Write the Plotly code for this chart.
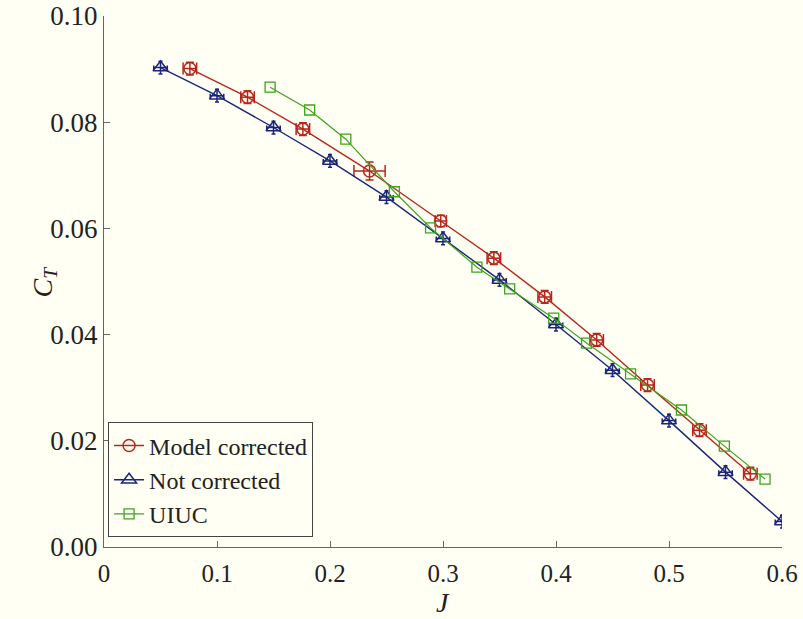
import plotly.graph_objects as go

# Thrust coefficient versus advance ratio
j_model = [0.076, 0.127, 0.176, 0.235, 0.298, 0.345, 0.390, 0.436, 0.481, 0.527, 0.572]
ct_model = [0.0901, 0.0847, 0.0787, 0.0708, 0.0614, 0.0544, 0.0471, 0.0390, 0.0305, 0.0220, 0.0138]
j_model_err = [0.006, 0.006, 0.006, 0.0138, 0.005, 0.006, 0.006, 0.006, 0.006, 0.006, 0.006]
ct_model_err = [0.0012, 0.0012, 0.0012, 0.0017, 0.0011, 0.0012, 0.0012, 0.0012, 0.0012, 0.0012, 0.0012]

j_raw = [0.05, 0.10, 0.15, 0.20, 0.25, 0.30, 0.35, 0.40, 0.45, 0.50, 0.55, 0.60]
ct_raw = [0.0903, 0.0850, 0.0790, 0.0727, 0.0659, 0.0581, 0.0503, 0.0419, 0.0333, 0.0238, 0.0141, 0.0048]
j_raw_err = [0.006] * 12
ct_raw_err = [0.0012] * 12

j_uiuc = [0.147, 0.182, 0.214, 0.257, 0.289, 0.330, 0.359, 0.398, 0.427, 0.466, 0.511, 0.549, 0.585]
ct_uiuc = [0.0866, 0.0823, 0.0768, 0.0669, 0.0601, 0.0527, 0.0486, 0.0431, 0.0384, 0.0326, 0.0258, 0.0190, 0.0128]

x_ticks = [0, 0.1, 0.2, 0.3, 0.4, 0.5, 0.6]
x_tick_text = ["0", "0.1", "0.2", "0.3", "0.4", "0.5", "0.6"]
y_ticks = [0.0, 0.02, 0.04, 0.06, 0.08, 0.10]
y_tick_text = ["0.00", "0.02", "0.04", "0.06", "0.08", "0.10"]

RED = "#b8261c"
BLUE = "#1c2678"
GREEN = "#3da41c"
BG = "#fffff4"
FONT = "'Liberation Serif', 'Times New Roman', serif"

fig = go.Figure()

fig.add_trace(go.Scatter(
    x=j_model, y=ct_model, name="Model corrected", mode="lines+markers",
    line=dict(color=RED, width=1.4),
    marker=dict(symbol="circle-open", size=12, color=RED, line=dict(width=1.5)),
    error_x=dict(type="data", array=j_model_err, color=RED, thickness=1.5, width=6),
    error_y=dict(type="data", array=ct_model_err, color=RED, thickness=1.5, width=4),
))

fig.add_trace(go.Scatter(
    x=j_raw, y=ct_raw, name="Not corrected", mode="lines+markers",
    line=dict(color=BLUE, width=1.4),
    marker=dict(symbol="triangle-up-open", size=13, color=BLUE, line=dict(width=1.5)),
    error_x=dict(type="data", array=j_raw_err, color=BLUE, thickness=1.5, width=2),
    error_y=dict(type="data", array=ct_raw_err, color=BLUE, thickness=1.5, width=2),
))

fig.add_trace(go.Scatter(
    x=j_uiuc, y=ct_uiuc, name="UIUC", mode="lines+markers",
    line=dict(color=GREEN, width=1.2),
    marker=dict(symbol="square-open", size=10, color=GREEN, line=dict(width=1.3)),
))

axis_common = dict(
    showgrid=False, zeroline=False, showline=True, linecolor="#666666", linewidth=1.2,
    ticks="inside", ticklen=6, tickcolor="#666666", tickwidth=1.2,
    mirror=False, automargin=False,
)

fig.update_layout(
    width=803, height=619,
    margin=dict(l=104, r=21, t=16, b=72),
    paper_bgcolor=BG, plot_bgcolor=BG,
    font=dict(family=FONT, color="#222222"),
    xaxis=dict(range=[0, 0.6], tickvals=x_ticks, ticktext=x_tick_text,
               tickfont=dict(family=FONT, size=25, color="#222222"),
               ticklabelstandoff=4, **axis_common),
    yaxis=dict(range=[0, 0.1], tickvals=y_ticks, ticktext=y_tick_text,
               tickfont=dict(family=FONT, size=27, color="#222222"),
               **axis_common),
    annotations=[
        dict(text="<i>J</i>", x=0.5, y=0, xref="paper", yref="paper",
             xanchor="center", yanchor="top", yshift=-38, showarrow=False,
             font=dict(family=FONT, size=28, color="#222222")),
        dict(text="<i>C<sub>T</sub></i>", x=0, y=0.5, xref="paper", yref="paper",
             xanchor="center", yanchor="middle", xshift=-60, textangle=-90, showarrow=False,
             font=dict(family=FONT, size=28, color="#222222")),
    ],
    legend=dict(
        x=0.006, y=0.018, xanchor="left", yanchor="bottom",
        bgcolor=BG, bordercolor="#444444", borderwidth=1,
        font=dict(family=FONT, size=24, color="#222222"),
        tracegroupgap=0, itemwidth=30,
    ),
    showlegend=True,
)

fig.write_html("out.html")
